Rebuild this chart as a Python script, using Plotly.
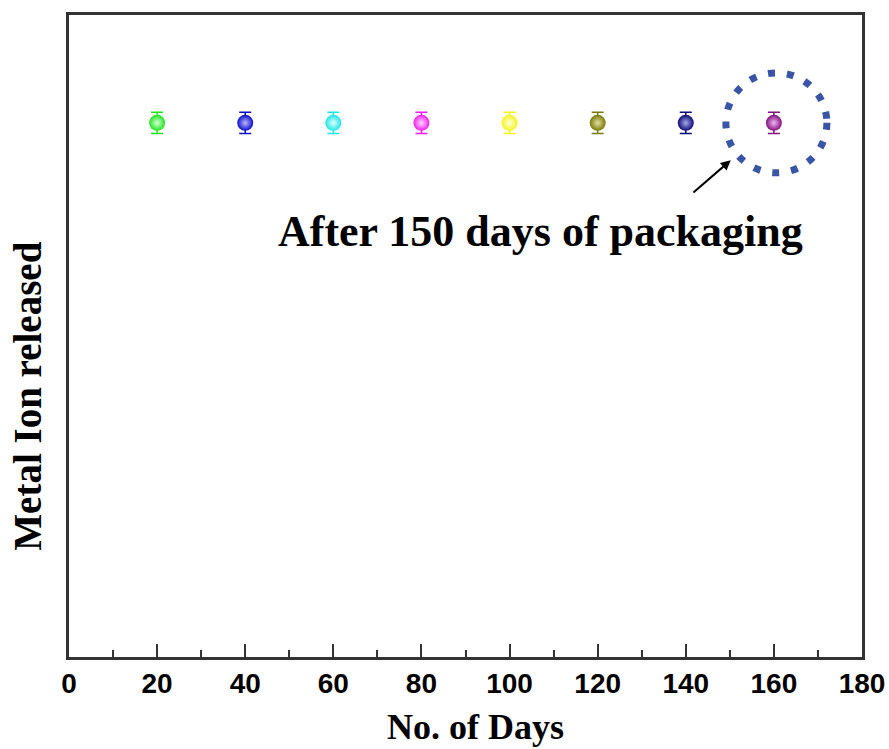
import plotly.graph_objects as go

days = [20, 40, 60, 80, 100, 120, 140, 160]
metal_ion = [8.32, 8.32, 8.32, 8.32, 8.32, 8.32, 8.32, 8.32]
err = [0.165, 0.165, 0.165, 0.165, 0.165, 0.165, 0.165, 0.165]
colors = ["#1ee61e", "#0c0cc8", "#1ee6e6", "#f21ef2", "#f5f51a", "#7a7a08", "#0a0a78", "#821082"]
highlight = ["#d8ffd8", "#b8b8ff", "#e0ffff", "#ffd8ff", "#ffffe0", "#e0e0a0", "#a8a8e8", "#f0b8f0"]
x_ticks = [0, 20, 40, 60, 80, 100, 120, 140, 160, 180]
annotation_text = "After 150 days of packaging"
y_title = "Metal Ion released"
x_title = "No. of Days"

fig = go.Figure()
for d, v, e, c, h in zip(days, metal_ion, err, colors, highlight):
    fig.add_trace(go.Scatter(
        x=[d], y=[v], mode="markers",
        error_y=dict(type="data", array=[e], color=c, thickness=1.5, width=6),
        marker=dict(size=16, color=c,
                    gradient=dict(type="radial", color=h),
                    line=dict(width=0)),
        showlegend=False))

fig.add_shape(type="circle", xref="x", yref="y", xsizemode="pixel", ysizemode="pixel",
              xanchor=days[-1], yanchor=metal_ion[-1],
              x0=-48, x1=53, y0=-50, y1=50,
              line=dict(color="#3a55a5", width=7, dash="7px,12px"))

fig.add_annotation(x=days[-1], y=metal_ion[-1], ax=-82, ay=71, axref="pixel", ayref="pixel",
                   text="", showarrow=True, arrowhead=2, arrowsize=1, arrowwidth=2,
                   arrowcolor="black", standoff=57)

fig.add_annotation(x=0.594, y=0.662, xref="paper", yref="paper", text="<b>%s</b>" % annotation_text,
                   showarrow=False, font=dict(family="Liberation Serif", size=44, color="black"))

fig.add_annotation(x=-0.083, y=0.4065, xref="paper", yref="paper", text="<b>%s</b>" % y_title,
                   textangle=-90, showarrow=False,
                   font=dict(family="Liberation Serif", size=39, color="black"))

fig.add_annotation(x=0.512, y=-0.109, xref="paper", yref="paper", text="<b>%s</b>" % x_title,
                   xanchor="center", yanchor="middle",
                   showarrow=False, font=dict(family="Liberation Serif", size=36, color="black"))

axis_line = "#333333"
fig.update_layout(
    width=889, height=749,
    paper_bgcolor="white", plot_bgcolor="white",
    margin=dict(l=69, r=27, t=15, b=92),
    xaxis=dict(range=[0, 180], tickvals=x_ticks, ticks="inside", ticklen=13, tickwidth=2,
               tickcolor=axis_line, showline=True, linecolor=axis_line, linewidth=2.5, mirror=True,
               showgrid=False, zeroline=False, automargin=False,
               minor=dict(dtick=10, ticks="inside", ticklen=7, tickwidth=2, tickcolor=axis_line),
               tickfont=dict(family="Liberation Sans", size=28, color="black", weight="bold")),
    yaxis=dict(range=[0, 10], showticklabels=False, ticks="", showline=True, linecolor=axis_line,
               linewidth=2.5, mirror=True, showgrid=False, zeroline=False, automargin=False),
)
fig.write_html("out.html", config={"displayModeBar": False},
               post_script="document.body.style.margin='0px';")
